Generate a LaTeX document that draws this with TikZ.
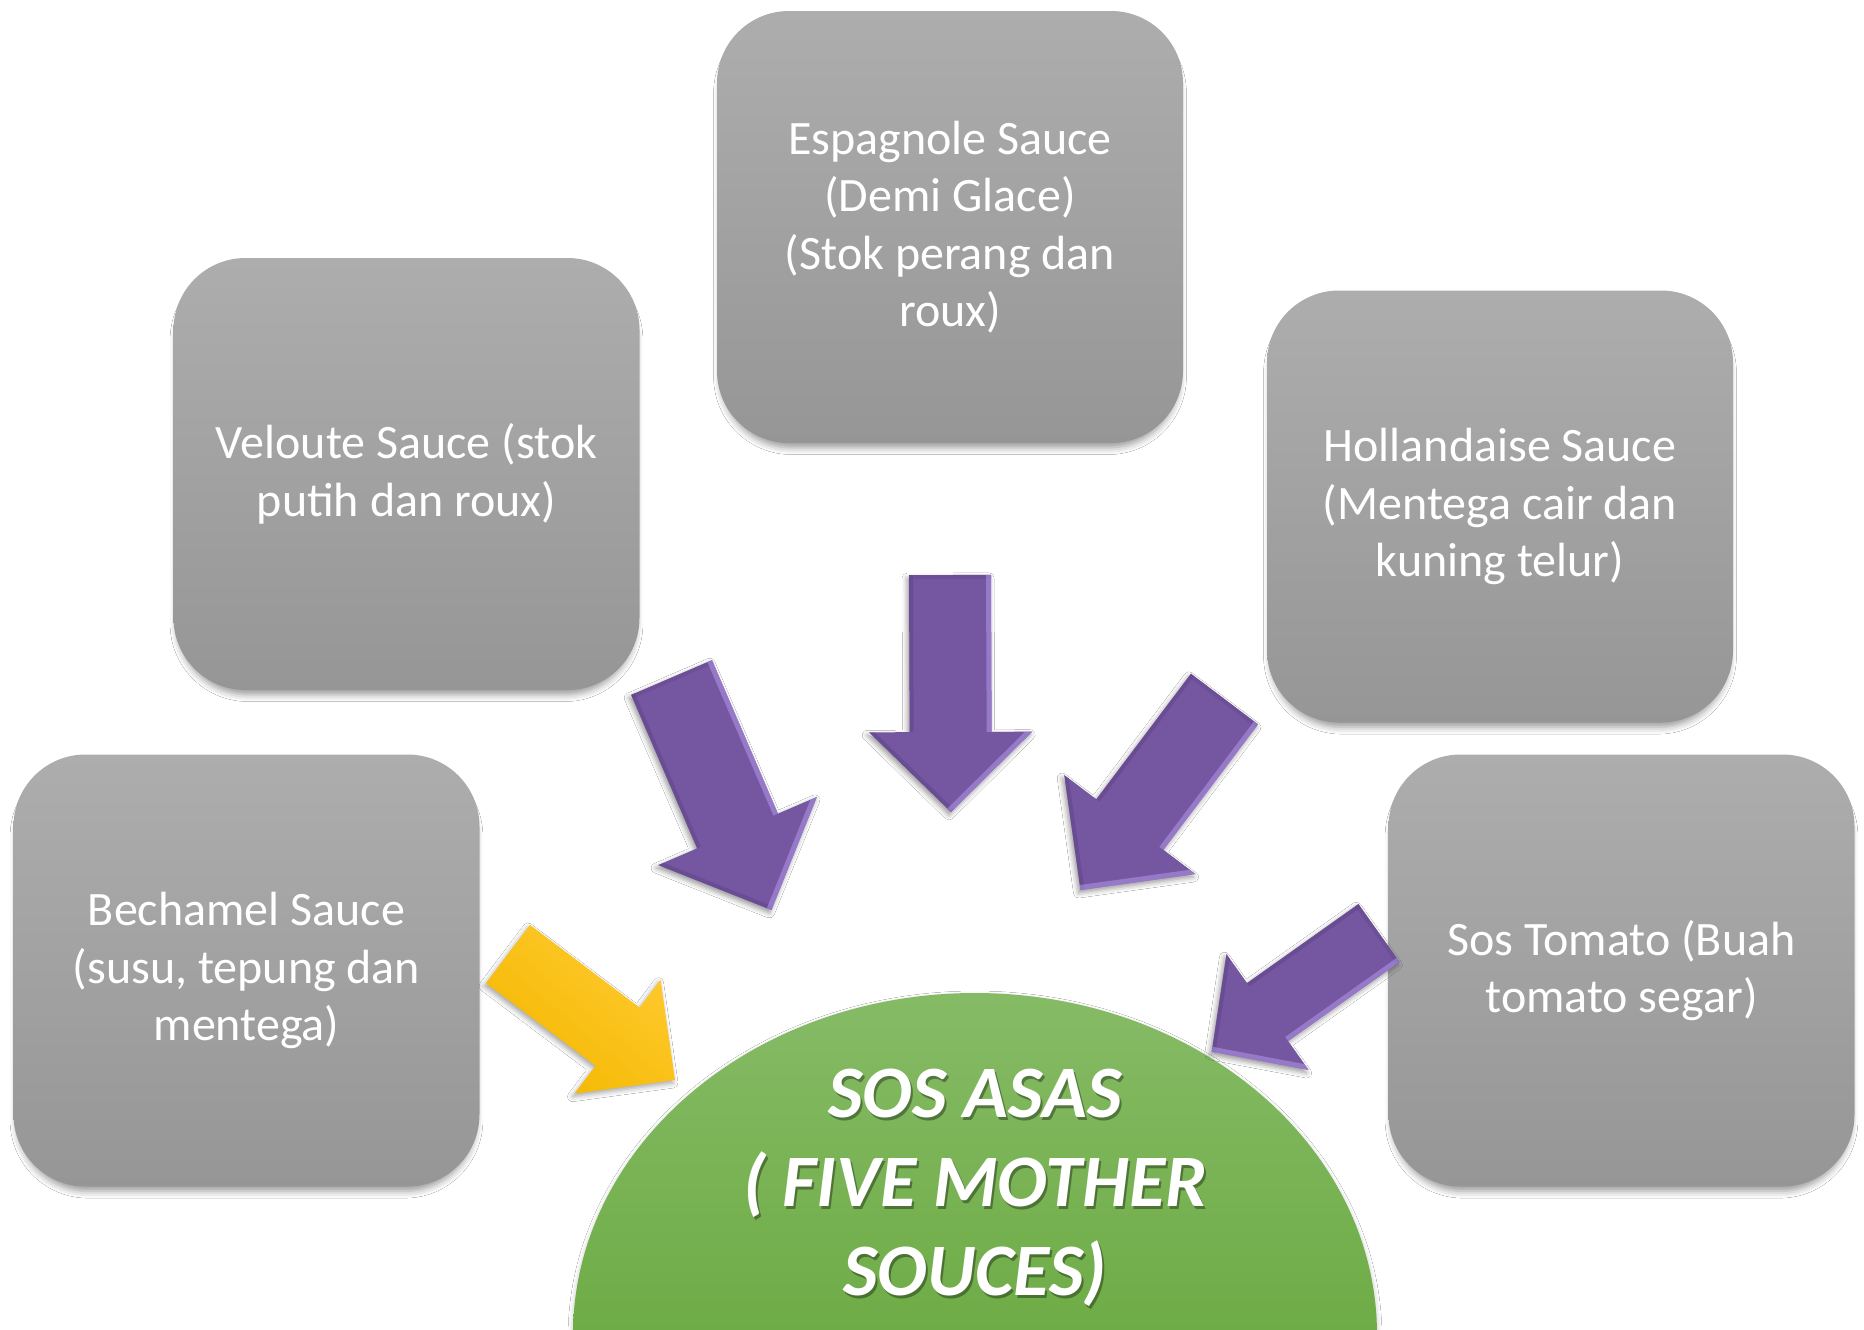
\documentclass[tikz,border=0pt]{standalone}
\usepackage{fontspec}
\setmainfont{Carlito}
\usetikzlibrary{calc,shadows,shadows.blur}
\definecolor{boxtop}{RGB}{173,173,173}
\definecolor{boxbot}{RGB}{150,150,150}
\definecolor{purp}{RGB}{117,86,160}
\definecolor{purpdark}{RGB}{92,66,132}
\definecolor{purplight}{RGB}{172,145,228}
\definecolor{ylwtop}{RGB}{255,202,48}
\definecolor{ylwbot}{RGB}{244,184,0}
\definecolor{grntop}{RGB}{134,187,102}
\definecolor{grnbot}{RGB}{110,172,70}
\tikzset{
  sauce/.style={rounded corners=36pt, minimum width=233pt, minimum height=216pt,
    inner sep=0pt, top color=boxtop, bottom color=boxbot, text=white, align=center,
    font=\fontsize{24pt}{28.75pt}\selectfont,
    blur shadow={shadow xshift=0pt, shadow yshift=-4pt, shadow blur radius=3.5pt, shadow opacity=40, shadow scale=0.985}},
  purplearrow/.style={fill=purp,
    blur shadow={shadow xshift=-1pt, shadow yshift=-1.5pt, shadow blur radius=2.5pt, shadow opacity=40}},
  yellowarrow/.style={top color=ylwtop, bottom color=ylwbot, shading angle=-40,
    blur shadow={shadow xshift=-1pt, shadow yshift=-1.5pt, shadow blur radius=2.5pt, shadow opacity=35}},
  bevellight/.style={draw=purplight, line width=5pt, line join=round},
  beveldark/.style={draw=purpdark, line width=4pt, line join=round},
  titletext/.style={text=white, align=center, font=\fontsize{37pt}{44.5pt}\selectfont\bfseries\itshape},
}
% #1 tail coordinate, #2 tip coordinate, #3 half shaft width, #4 half head width, #5 head length, #6 style, #7 bevel (1/0)
\newcommand\blockarrow[7]{%
  \coordinate (#1-b) at ($(#2)!#5!(#1)$);
  \coordinate (#1-p1) at ($(#1)!#3!90:(#2)$);
  \coordinate (#1-p2) at ($(#1-b)!#3!90:(#2)$);
  \coordinate (#1-p3) at ($(#1-b)!#4!90:(#2)$);
  \coordinate (#1-p5) at ($(#1-b)!#4!-90:(#2)$);
  \coordinate (#1-p6) at ($(#1-b)!#3!-90:(#2)$);
  \coordinate (#1-p7) at ($(#1)!#3!-90:(#2)$);
  \path[#6] (#1-p1) -- (#1-p2) -- (#1-p3) -- (#2) -- (#1-p5) -- (#1-p6) -- (#1-p7) -- cycle;
  \ifnum#7=1
  \begin{scope}
    \clip (#1-p1) -- (#1-p2) -- (#1-p3) -- (#2) -- (#1-p5) -- (#1-p6) -- (#1-p7) -- cycle;
    \draw[beveldark, opacity=0.45] (#1-p7) -- (#1-p6) (#1-p5) -- (#2);
    \draw[beveldark, opacity=0.3] (#1-p1) -- (#1-p7);
    \draw[bevellight, opacity=0.6] (#1-p1) -- (#1-p2) (#1-p3) -- (#2);
  \end{scope}
  \fi
}
\begin{document}
\begin{tikzpicture}[x=0.5pt, y=-0.5pt]
\fill[white] (0,0) rectangle (1864,1329);
\useasboundingbox (0,0) rectangle (1864,1329);

% central semi-ellipse
\begin{scope}
  \clip (0,0) rectangle (1864,1329);
  \path[top color=grntop, bottom color=grnbot,
    blur shadow={shadow xshift=0pt, shadow yshift=-1.5pt, shadow blur radius=2.5pt, shadow opacity=25}]
    (573,1335) arc[start angle=180, end angle=360, x radius=402, y radius=342] -- cycle;
\end{scope}

% sauce boxes
\node[sauce] (esp) at (950,227) {Espagnole Sauce\\(Demi Glace)\\(Stok perang dan\\roux)};
\node[sauce] (vel) at (406.5,474) {Veloute Sauce (stok\\putih dan roux)};
\node[sauce] (hol) at (1500,506.5) {Hollandaise Sauce\\(Mentega cair dan\\kuning telur)};
\node[sauce] (bec) at (246.5,970.5) {Bechamel Sauce\\(susu, tepung dan\\mentega)};
\node[sauce] (tom) at (1621.5,970.5) {Sos Tomato (Buah\\tomato segar)};

% title
\node[titletext, text=black, opacity=0.35] (coreshade) at (977,1190.5) {SOS ASAS\\( FIVE MOTHER\\SOUCES)};
\node[titletext] (core) at (975,1188) {SOS ASAS\\( FIVE MOTHER\\SOUCES)};

% arrows
\coordinate (aesp) at (950,575);   \coordinate (aesp-tip) at (951,812);
\coordinate (avel) at (671.6,677.5); \coordinate (avel-tip) at (771.5,910);
\coordinate (ahol) at (1224.5,699); \coordinate (ahol-tip) at (1080.5,890);
\coordinate (atom) at (1379,933);  \coordinate (atom-tip) at (1211.7,1051.7);
\coordinate (abec) at (508,954);   \coordinate (abec-tip) at (675,1080);

\blockarrow{aesp}{aesp-tip}{20.5pt}{40.75pt}{40pt}{purplearrow}{1}
\blockarrow{avel}{avel-tip}{22pt}{43.2pt}{43pt}{purplearrow}{1}
\blockarrow{ahol}{ahol-tip}{21pt}{41.1pt}{41pt}{purplearrow}{1}
\blockarrow{atom}{atom-tip}{17.75pt}{35.5pt}{34.25pt}{purplearrow}{1}
\blockarrow{abec}{abec-tip}{18.25pt}{35.7pt}{36pt}{yellowarrow}{0}
\end{tikzpicture}
\end{document}
